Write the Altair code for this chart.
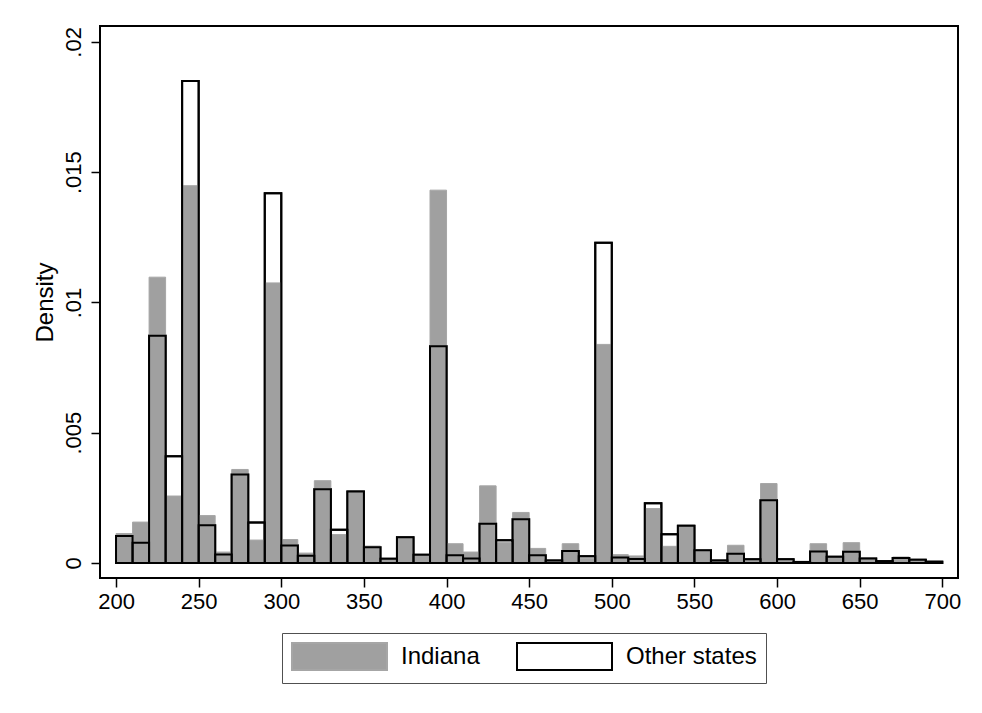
import altair as alt
import pandas as pd

# Bin edges (width 10) from 200 to 700
bin_start = [200, 210, 220, 230, 240, 250, 260, 270, 280, 290,
             300, 310, 320, 330, 340, 350, 360, 370, 380, 390,
             400, 410, 420, 430, 440, 450, 460, 470, 480, 490,
             500, 510, 520, 530, 540, 550, 560, 570, 580, 590,
             600, 610, 620, 630, 640, 650, 660, 670, 680, 690]
bin_width = 10

indiana = [0.00113, 0.00157, 0.01097, 0.00257, 0.01448, 0.00182, 0.00042, 0.00359, 0.00088, 0.01075,
           0.00090, 0.00038, 0.00316, 0.00109, 0.00272, 0.00065, 0.00015, 0.00099, 0.00032, 0.01431,
           0.00074, 0.00042, 0.00296, 0.00078, 0.00194, 0.00056, 0.00010, 0.00074, 0.00018, 0.00839,
           0.00032, 0.00027, 0.00209, 0.00064, 0.00145, 0.00051, 0.00010, 0.00068, 0.00014, 0.00305,
           0.00010, 0.00003, 0.00074, 0.00020, 0.00078, 0.00020, 0.00005, 0.00023, 0.00010, 0.00003]

other = [0.00104, 0.00078, 0.00872, 0.00410, 0.01850, 0.00145, 0.00033, 0.00340, 0.00155, 0.01419,
         0.00067, 0.00028, 0.00283, 0.00128, 0.00274, 0.00060, 0.00016, 0.00099, 0.00032, 0.00832,
         0.00030, 0.00017, 0.00151, 0.00087, 0.00168, 0.00030, 0.00010, 0.00046, 0.00026, 0.01229,
         0.00021, 0.00015, 0.00229, 0.00110, 0.00143, 0.00049, 0.00010, 0.00035, 0.00014, 0.00241,
         0.00014, 0.00004, 0.00044, 0.00024, 0.00043, 0.00017, 0.00007, 0.00019, 0.00012, 0.00005]

series_names = ["Indiana", "Other states"]
x_ticks = [200, 250, 300, 350, 400, 450, 500, 550, 600, 650, 700]
y_ticks = [0, 0.005, 0.01, 0.015, 0.02]

rows = []
for b, v in zip(bin_start, indiana):
    rows.append({"start": b, "end": b + bin_width, "density": v, "series": "Indiana"})
for b, v in zip(bin_start, other):
    rows.append({"start": b, "end": b + bin_width, "density": v, "series": "Other states"})
df = pd.DataFrame(rows)

FONT = "Liberation Sans"

x_enc = alt.X("start:Q",
              scale=alt.Scale(domain=[190.3, 709.5], nice=False, zero=False),
              axis=alt.Axis(values=x_ticks, title=None, domain=False, grid=False,
                            tickSize=9, tickWidth=1.5, tickColor="black",
                            labelFontSize=22, labelFont=FONT, labelColor="black",
                            labelPadding=4, labelFlush=False))
y_enc = alt.Y("density:Q",
              scale=alt.Scale(domain=[-0.000576, 0.02061], nice=False, zero=False),
              axis=alt.Axis(values=y_ticks, title="Density", domain=False, grid=False,
                            tickSize=9, tickWidth=1.5, tickColor="black",
                            labelFontSize=22, labelFont=FONT, labelColor="black",
                            labelAngle=270, labelPadding=6,
                            labelExpr="datum.value == 0 ? '0' : slice(format(datum.value, '.3~f'), 1)",
                            titleFontSize=24, titleFont=FONT, titleFontWeight="normal",
                            titleColor="black", titlePadding=5))

fill_scale = alt.Scale(domain=series_names, range=["#a0a0a0", "white"])
stroke_scale = alt.Scale(domain=series_names, range=["#a6a6a6", "black"])
# swatch 95 x 27 px: symbol size 27^2, path extends to the right
legend = alt.Legend(title=None, orient="none", legendX=182, legendY=607,
                    direction="horizontal",
                    symbolType="M-1,-1H6.037V1H-1Z", symbolSize=729,
                    symbolStrokeWidth=2,
                    labelFontSize=24, labelFont=FONT, labelColor="black",
                    labelOffset=81, columnPadding=33, padding=9,
                    strokeColor="#505050", fillColor="white")

base = alt.Chart(df)

# Other states, white fill (for legend, hidden beneath)
other_bottom = base.transform_filter(alt.datum.series == "Other states").mark_bar(
    strokeWidth=2
).encode(
    x=x_enc, x2="end:Q", y=y_enc, y2=alt.datum(0),
    fill=alt.Fill("series:N", scale=fill_scale, legend=legend),
    stroke=alt.Stroke("series:N", scale=stroke_scale, legend=legend),
)

indiana_layer = base.transform_filter(alt.datum.series == "Indiana").mark_bar(
    strokeWidth=1
).encode(
    x=x_enc, x2="end:Q", y=y_enc, y2=alt.datum(0),
    fill=alt.Fill("series:N", scale=fill_scale, legend=legend),
    stroke=alt.Stroke("series:N", scale=stroke_scale, legend=legend),
)

other_top = base.transform_filter(alt.datum.series == "Other states").mark_bar(
    fill="transparent", stroke="black", strokeWidth=2
).encode(
    x=x_enc, x2="end:Q", y=y_enc, y2=alt.datum(0),
)

chart = alt.layer(other_bottom, indiana_layer, other_top).properties(
    width=858, height=552,
    autosize=alt.AutoSizeParams(type="none"),
    padding={"left": 92, "top": 18, "right": 14, "bottom": 125},
    background="white",
).configure_view(
    stroke="black", strokeWidth=2
)

chart.save("out.html", embed_options={"renderer": "svg", "actions": False})
